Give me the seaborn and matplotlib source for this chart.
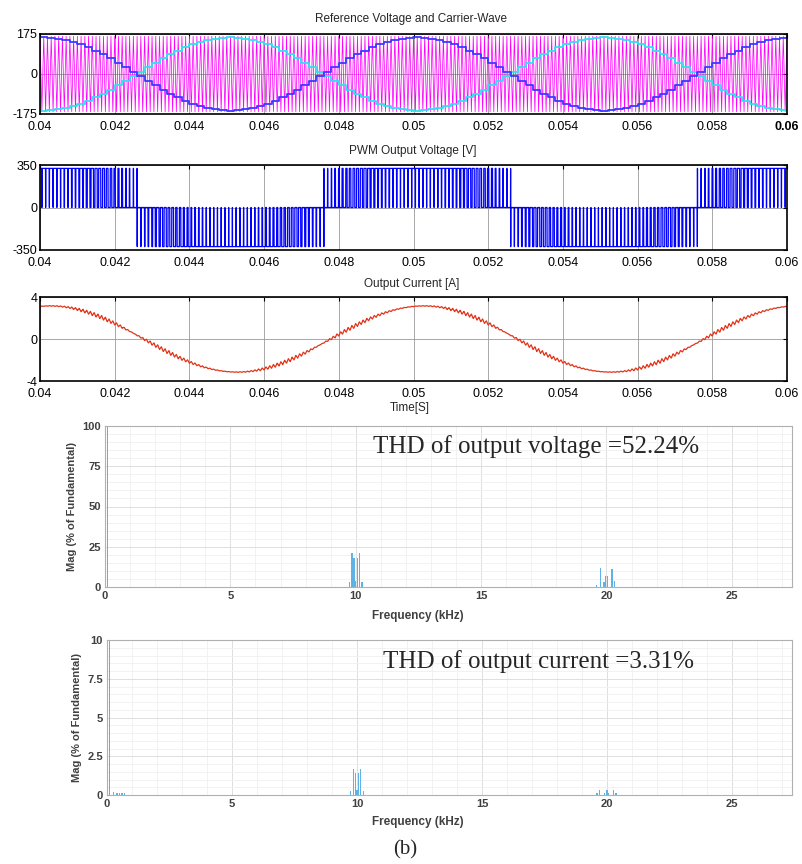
import numpy as np
import pandas as pd
import matplotlib
matplotlib.use("Agg")
import matplotlib.pyplot as plt
import seaborn as sns
from matplotlib.ticker import MultipleLocator, FixedLocator

sns.set_theme(style="white")
plt.rcParams['font.family'] = ['Liberation Sans', 'DejaVu Sans']

# scope window + waveform settings
t_start, t_end = 0.04, 0.06
f_ref = 100.0          # Hz (2 cycles in 20 ms)
ref_amp = 160.0        # reference peak
ref_hold = 0.0002      # staircase step of sampled reference
f_carrier = 10000.0    # carrier / pulse rate
carrier_amp = 165.0
v_dc = 322.0           # pwm pulse height
i_amp = 3.15           # output current peak
i_lag = 0.00028        # current lag behind reference
i_ripple = 0.18

time_ticks = [0.04, 0.042, 0.044, 0.046, 0.048, 0.05, 0.052, 0.054, 0.056, 0.058, 0.06]
time_labels = ['0.04', '0.042', '0.044', '0.046', '0.048', '0.05', '0.052', '0.054', '0.056', '0.058', '0.06']

# fft lines, kHz and % of fundamental
v_freq = [0.1, 9.75, 9.85, 9.93, 10.0, 10.07, 10.15, 10.25,
          19.62, 19.75, 19.9, 19.96, 20.04, 20.22, 20.33]
v_mag = [100, 3, 21, 18, 4, 18, 21, 3,
         1.5, 11.5, 3, 7, 7, 11, 4]
i_freq = [0.1, 0.25, 0.4, 0.5, 0.6, 0.7, 1.15, 1.3,
          9.75, 9.85, 9.93, 10.0, 10.07, 10.15, 10.25,
          19.6, 19.7, 19.91, 20.0, 20.07, 20.27, 20.36]
i_mag = [100, 0.22, 0.1, 0.1, 0.1, 0.1, 0.03, 0.03,
         0.26, 1.7, 1.44, 0.3, 1.44, 1.66, 0.26,
         0.15, 0.3, 0.15, 0.3, 0.15, 0.3, 0.12]

W, H = 803, 864
fig = plt.figure(figsize=(W / 100, H / 100), dpi=100)


def px_axes(left, top, right, bottom):
    return fig.add_axes([left / W, 1 - bottom / H, (right - left) / W, (bottom - top) / H])


# ---- waveforms
w = 2 * np.pi * f_ref
t_hold = np.arange(t_start, t_end + ref_hold / 2, ref_hold)
ref_blue = ref_amp * np.cos(w * t_hold)
ref_cyan = -ref_blue

t_car = np.arange(t_start, t_end + 1e-9, 1 / (2 * f_carrier))
car = carrier_amp * np.where(np.arange(len(t_car)) % 2 == 0, 1, -1)

t = np.arange(t_start, t_end, 2e-7)
ref_stair = ref_amp * np.cos(w * np.floor(t / ref_hold + 1e-9) * ref_hold)
tri01 = 1 - np.abs(2 * ((t * f_carrier) % 1) - 1)
pwm = v_dc * np.sign(ref_stair) * (np.abs(ref_stair) / carrier_amp > tri01)

ti = np.arange(t_start, t_end, 1e-6)
d = np.abs(np.cos(w * ti)) * ref_amp / carrier_amp
tri_pm = 2 * (1 - np.abs(2 * ((ti * f_carrier) % 1) - 1)) - 1
cur = i_amp * np.cos(w * (ti - i_lag)) + i_ripple * 4 * d * (1 - d) * tri_pm


def scope_style(ax, yt):
    ax.set_xlim(t_start, t_end)
    ax.set_ylim(yt[0], yt[-1])
    ax.set_xticks(time_ticks)
    ax.set_xticklabels(time_labels)
    ax.set_yticks(yt)
    ax.set_yticklabels([str(v) for v in yt])
    ax.set_xlabel('')
    ax.set_ylabel('')
    ax.grid(True, color='#9a9a9a', lw=0.6)
    ax.set_axisbelow(True)
    ax.tick_params(direction='in', top=True, right=True, length=3, width=0.8,
                   labelsize=9, colors='black', pad=2)
    ax.tick_params(axis='x', pad=5)
    for s in ax.spines.values():
        s.set_color('black')
        s.set_linewidth(1.2)


ax1 = px_axes(40, 34, 787, 114)
sns.lineplot(x=t_car, y=car, ax=ax1, color='#ff00ff', linewidth=0.55, estimator=None, sort=False)
sns.lineplot(x=t_hold, y=ref_cyan, ax=ax1, color='#30e0f0', linewidth=1.3, estimator=None,
             sort=False, drawstyle='steps-post')
sns.lineplot(x=t_hold, y=ref_blue, ax=ax1, color='#3a3aff', linewidth=1.3, estimator=None,
             sort=False, drawstyle='steps-post')
scope_style(ax1, [-175, 0, 175])
ax1.get_xticklabels()[-1].set_fontweight('bold')

ax2 = px_axes(40, 165, 787, 250)
sns.lineplot(x=t, y=pwm, ax=ax2, color='#0000ff', linewidth=0.9, estimator=None, sort=False)
scope_style(ax2, [-350, 0, 350])

ax3 = px_axes(40, 297, 787, 381)
sns.lineplot(x=ti, y=cur, ax=ax3, color='#e3341a', linewidth=0.9, estimator=None, sort=False)
scope_style(ax3, [-4, 0, 4])

fig.text(411 / W, 1 - 19 / H, 'Reference Voltage and Carrier-Wave', ha='center', va='center', fontsize=8.5)
fig.text(413 / W, 1 - 151 / H, 'PWM Output Voltage [V]', ha='center', va='center', fontsize=8.5)
fig.text(412 / W, 1 - 284 / H, 'Output Current [A]', ha='center', va='center', fontsize=8.5)
fig.text(410 / W, 1 - 408 / H, 'Time[S]', ha='center', va='center', fontsize=8.5)


# ---- spectra
def fft_style(ax, ymax, yt, ylab, yminor):
    ax.set_xlim(0, 27.4)
    ax.set_ylim(0, ymax)
    ax.xaxis.set_major_locator(FixedLocator([0, 5, 10, 15, 20, 25]))
    ax.set_xticklabels(['0', '5', '10', '15', '20', '25'])
    ax.xaxis.set_minor_locator(MultipleLocator(1))
    ax.yaxis.set_major_locator(FixedLocator(yt))
    ax.set_yticklabels(ylab)
    ax.yaxis.set_minor_locator(MultipleLocator(yminor))
    ax.set_xlabel('')
    ax.set_ylabel('')
    ax.grid(True, which='major', color='#dedede', lw=0.7)
    ax.grid(True, which='minor', color='#f0f0f0', lw=0.6)
    ax.set_axisbelow(True)
    ax.tick_params(which='major', direction='in', length=3, width=0.7, color='#a0a0a0',
                   labelcolor='#404040', labelsize=8, pad=3)
    ax.tick_params(which='minor', length=0)
    for lab in ax.get_xticklabels() + ax.get_yticklabels():
        lab.set_fontweight('bold')
    for s in ax.spines.values():
        s.set_color('#b0b0b0')
        s.set_linewidth(0.8)


bar_color = '#5eb3e4'

ax4 = px_axes(105, 426, 792, 587)
sns.barplot(x=v_freq, y=v_mag, ax=ax4, native_scale=True, color=bar_color,
            errorbar=None, width=0.75, linewidth=0, saturation=1, antialiased=False)
fft_style(ax4, 100, [0, 25, 50, 75, 100], ['0', '25', '50', '75', '100'], 5)
ax4.set_ylabel('Mag (% of Fundamental)', fontsize=8, fontweight='bold', color='#404040')
ax4.yaxis.set_label_coords(-0.041, 0.5)

ax5 = px_axes(107, 640, 792, 795)
sns.barplot(x=i_freq, y=i_mag, ax=ax5, native_scale=True, color=bar_color,
            errorbar=None, width=0.75, linewidth=0, saturation=1, antialiased=False)
fft_style(ax5, 10, [0, 2.5, 5, 7.5, 10], ['0', '2.5', '5', '7.5', '10'], 0.5)
ax5.set_ylabel('Mag (% of Fundamental)', fontsize=8, fontweight='bold', color='#404040')
ax5.yaxis.set_label_coords(-0.036, 0.5)

fig.text(418 / W, 1 - 616 / H, 'Frequency (kHz)', ha='center', va='center', fontsize=8.5,
         fontweight='bold', color='#404040')
fig.text(418 / W, 1 - 822 / H, 'Frequency (kHz)', ha='center', va='center', fontsize=8.5,
         fontweight='bold', color='#404040')

fig.text(373 / W, 1 - 453 / H, 'THD of output voltage =52.24%', ha='left', va='baseline',
         fontsize=18, family=['Liberation Serif', 'DejaVu Serif'])
fig.text(383 / W, 1 - 668 / H, 'THD of output current =3.31%', ha='left', va='baseline',
         fontsize=18, family=['Liberation Serif', 'DejaVu Serif'])
fig.text(405 / W, 1 - 850 / H, '(b)', ha='center', va='center', fontsize=15,
         family=['Liberation Serif', 'DejaVu Serif'])

fig.savefig('out.png', dpi=100)
